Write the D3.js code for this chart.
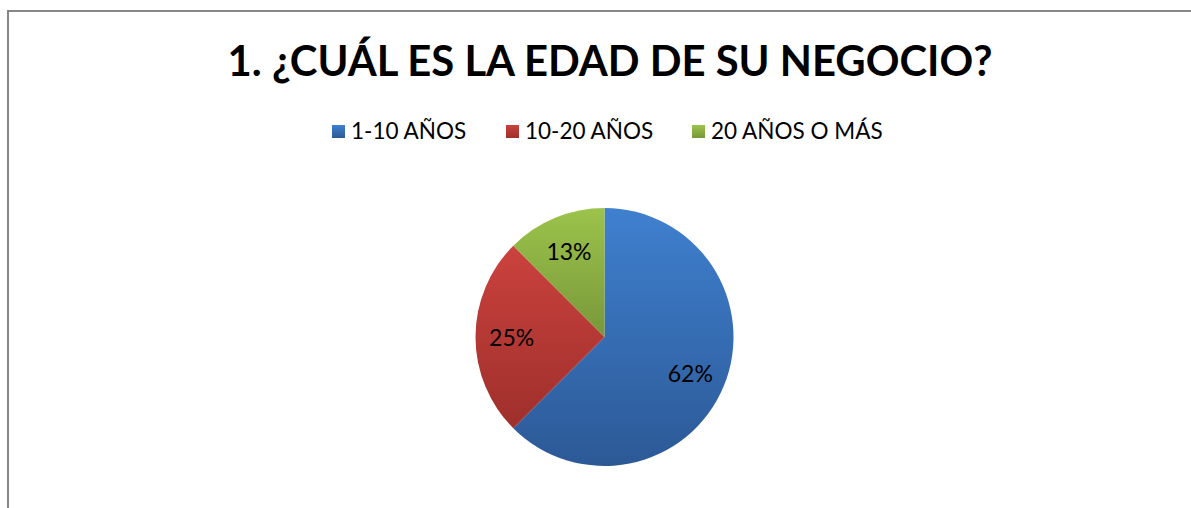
<!DOCTYPE html>
<html>
<head>
<meta charset="utf-8">
<script src="https://cdn.jsdelivr.net/npm/d3@7"></script>
<style>
  body { margin: 0; background: #fff; }
  svg { display: block; }
  text { font-family: Lato, "Open Sans", sans-serif; fill: #000; }
</style>
</head>
<body>
<svg width="1191" height="508"></svg>
<script>
// data
const categories = ["1-10 AÑOS", "10-20 AÑOS", "20 AÑOS O MÁS"];
const values = [62.5, 25, 12.5];
const labels = ["62%", "25%", "13%"];
const title = "1. ¿CUÁL ES LA EDAD DE SU NEGOCIO?";

const svg = d3.select("svg"),
    width = +svg.attr("width"),
    height = +svg.attr("height");

// light (top) / dark (bottom) colour for each slice
const colorTop = d3.scaleOrdinal().domain(categories).range(["#3f80cf", "#cb423e", "#9cc34b"]);
const colorBot = d3.scaleOrdinal().domain(categories).range(["#2c5996", "#9e2f2b", "#78983a"]);

const defs = svg.append("defs");
categories.forEach((c, i) => {
  const g = defs.append("linearGradient")
      .attr("id", "grad" + i)
      .attr("x1", 0).attr("y1", 0).attr("x2", 0).attr("y2", 1);
  g.append("stop").attr("offset", "0%").attr("stop-color", colorTop(c));
  g.append("stop").attr("offset", "100%").attr("stop-color", colorBot(c));
});

// frame
svg.append("path")
    .attr("d", "M8,508 V11 H" + width)
    .attr("fill", "none")
    .attr("stroke", "#878787")
    .attr("stroke-width", 2);

// title
const t = svg.append("text")
    .attr("x", 610)
    .attr("y", 76)
    .attr("text-anchor", "middle")
    .style("font-weight", "bold")
    .style("font-size", "40px")
    .text(title);
const tw = t.node().getComputedTextLength();
t.style("font-size", (40 * 765 / tw) + "px");

// legend
const legendX = [332, 506, 692];
const legend = svg.append("g").selectAll("g")
    .data(categories)
  .enter().append("g")
    .attr("transform", (d, i) => "translate(" + legendX[i] + ",125)");

legend.append("rect")
    .attr("width", 13)
    .attr("height", 13)
    .attr("fill", (d, i) => "url(#grad" + i + ")");

legend.append("text")
    .attr("x", 19)
    .attr("y", 14)
    .style("font-size", "22.5px")
    .text(d => d);

// pie
const cx = 604.5, cy = 337, r = 129;
const pie = d3.pie().sort(null).value(d => d.v);
const arcs = pie(categories.map((c, i) => ({ c: c, v: values[i], i: i })));
const arc = d3.arc().innerRadius(0).outerRadius(r);
const labelArc = d3.arc().innerRadius(r * 0.72).outerRadius(r * 0.72);

const g = svg.append("g").attr("transform", "translate(" + cx + "," + cy + ")");

g.selectAll("path")
    .data(arcs)
  .enter().append("path")
    .attr("d", arc)
    .attr("fill", d => "url(#grad" + d.data.i + ")");

g.selectAll("text")
    .data(arcs)
  .enter().append("text")
    .attr("transform", d => "translate(" + labelArc.centroid(d) + ")")
    .attr("text-anchor", "middle")
    .attr("dy", "0.4em")
    .style("font-size", "23px")
    .text(d => labels[d.data.i]);
</script>
</body>
</html>
